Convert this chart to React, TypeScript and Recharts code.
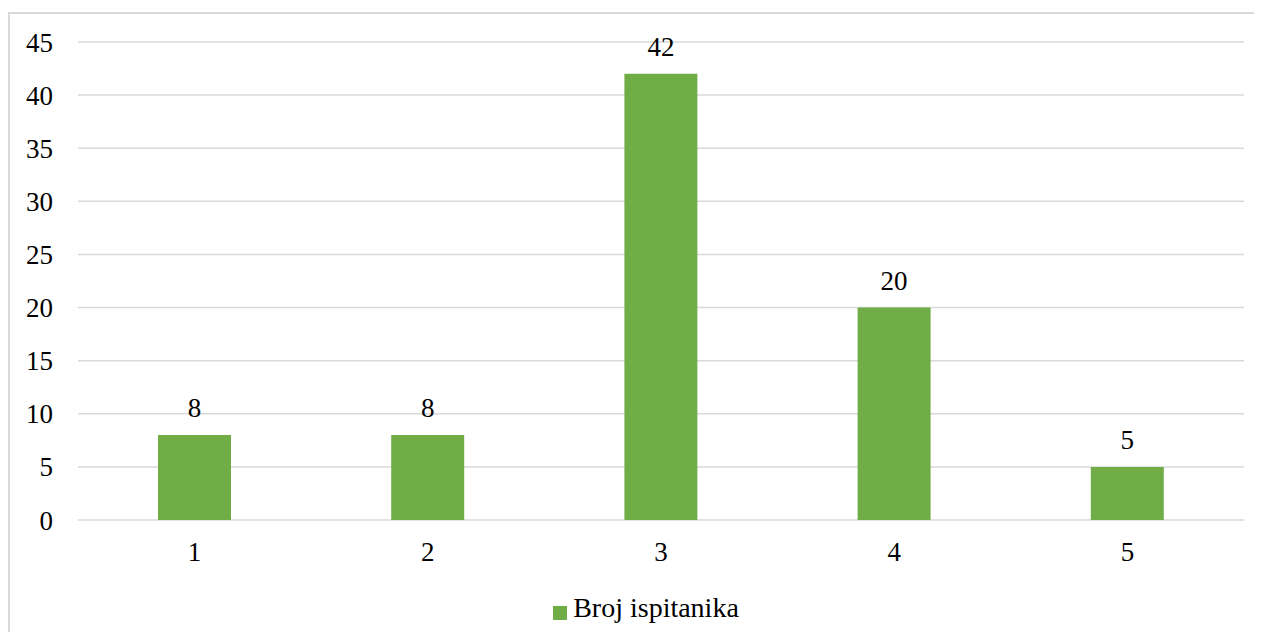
import React from 'react';
import {
  BarChart,
  Bar,
  XAxis,
  YAxis,
  CartesianGrid,
  Legend,
  LabelList,
} from 'recharts';

const categories = ['1', '2', '3', '4', '5'];
const respondents = [8, 8, 42, 20, 5];
const yTicks = [0, 5, 10, 15, 20, 25, 30, 35, 40, 45];

const data = categories.map((name, i) => ({ name, value: respondents[i] }));

const FONT = 'Liberation Serif, DejaVu Serif, serif';
const GREEN = '#70AD47';
const GRID = '#d9d9d9';

export default function App() {
  return (
    <div
      style={{
        position: 'relative',
        width: 1254,
        height: 620,
        marginTop: 4,
        fontFamily: FONT,
      }}
    >
      <div
        style={{
          position: 'absolute',
          inset: 0,
          borderTop: `2px solid ${GRID}`,
          borderLeft: `2px solid ${GRID}`,
          pointerEvents: 'none',
        }}
      />
      <BarChart
        width={1254}
        height={620}
        data={data}
        margin={{ top: 30, right: 18, bottom: 8, left: 10 }}
        style={{ fontFamily: FONT }}
      >
        <CartesianGrid vertical={false} stroke={GRID} strokeWidth={1.5} />
        <XAxis
          dataKey="name"
          axisLine={false}
          tickLine={false}
          tickSize={0}
          tickMargin={22}
          height={72}
          tick={{ fill: '#000', fontSize: 27, fontFamily: FONT }}
        />
        <YAxis
          domain={[0, 45]}
          ticks={yTicks}
          axisLine={false}
          tickLine={false}
          tickSize={0}
          tickMargin={25}
          width={60}
          tick={{ fill: '#000', fontSize: 27, fontFamily: FONT }}
        />
        <Legend
          verticalAlign="bottom"
          iconType="square"
          iconSize={14}
          wrapperStyle={{ left: 30 }}
          formatter={(v) => (
            <span style={{ color: '#000', fontSize: 28, fontFamily: FONT, marginLeft: 2 }}>{v}</span>
          )}
        />
        <Bar
          dataKey="value"
          name="Broj ispitanika"
          fill={GREEN}
          barSize={73}
          isAnimationActive={false}
        >
          <LabelList
            dataKey="value"
            position="top"
            offset={18}
            fill="#000"
            fontSize={27}
            fontFamily={FONT}
          />
        </Bar>
      </BarChart>
    </div>
  );
}
